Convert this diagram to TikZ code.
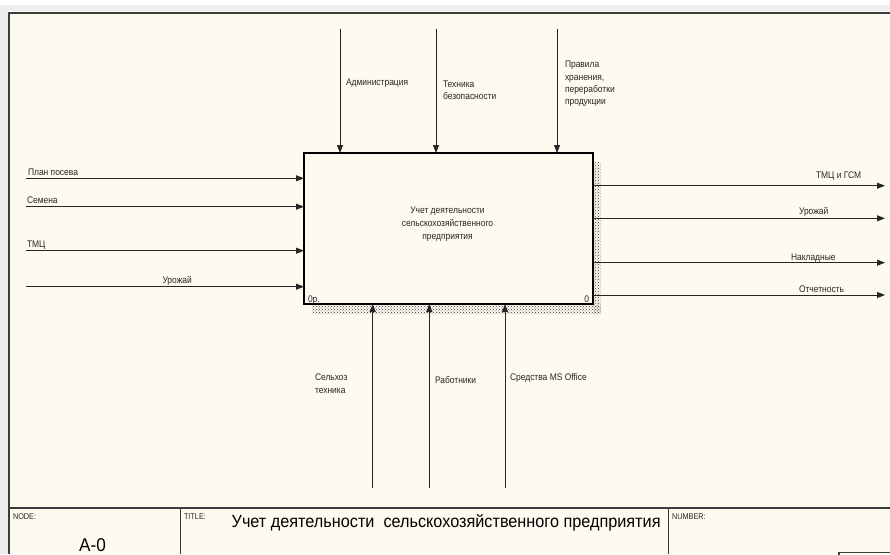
\documentclass[tikz,border=0pt]{standalone}
\usepackage{fontspec}
\setmainfont{Liberation Sans}[FakeStretch=0.88]
\newfontfamily\titlefont{Liberation Sans}[FakeStretch=0.928]
\usetikzlibrary{arrows.meta,patterns}
\definecolor{bg}{RGB}{255,250,240}
\definecolor{frm}{RGB}{60,60,60}
\definecolor{bar}{RGB}{238,238,238}
\begin{document}
\begin{tikzpicture}[x=1pt,y=-1pt,
  lbl/.style={inner sep=0pt, outer sep=0pt, anchor=base west, font=\fontsize{9.6}{12}\selectfont, text=black!85},
  lblc/.style={lbl, anchor=base},
  small/.style={inner sep=0pt, outer sep=0pt, anchor=base west, font=\fontsize{8.3}{9}\selectfont, text=black!85},
  arr/.style={draw=black!85, line width=0.9pt, -{Triangle[length=8pt,width=6pt]}},
  frame/.style={draw=frm, line width=1.3pt},
  shadow/.style={pattern=crosshatch dots, pattern color=black!80, draw=none}]
\useasboundingbox (0,0) rectangle (890,554);
% background and window chrome
\fill[white] (0,0) rectangle (890,554);
\fill[bar] (0,5) rectangle (890,11);
\fill[bar] (0,11) rectangle (8,554);
\fill[bg] (9,12) rectangle (890,554);
\draw[draw=frm, line width=2pt] (9,554) -- (9,12.5) -- (890,12.5);
% title block
\draw[frame] (9,508) -- (890,508);
\draw[frame] (180.5,508) -- (180.5,554);
\draw[frame] (668.5,508) -- (668.5,554);
\draw[frame] (839,556) -- (839,552.5) -- (892,552.5);
\node[small] (tnode) at (13,519) {NODE:};
\node[small] (ttitle) at (184,519) {TITLE:};
\node[small] (tnum) at (672,519) {NUMBER:};
\node[inner sep=0pt, anchor=base, font=\titlefont\fontsize{18.5}{20}\selectfont] (tA0) at (92.5,551) {A-0};
\node[inner sep=0pt, anchor=base west, font=\titlefont\fontsize{17.5}{20}\selectfont] (ttext) at (231.5,527) {Учет деятельности\ \ сельскохозяйственного предприятия};
% shadow of the box
\fill[shadow] (593,162) rectangle (601,313);
\fill[shadow] (312,305) rectangle (601,313);
% main box
\node[draw=black, line width=1.6pt, fill=bg, inner sep=0pt, outer sep=0pt,
      minimum width=289pt, minimum height=151pt, anchor=north west] (box) at (304,153) {};
\node[lblc] (b1) at (447.5,213.5) {Учет деятельности};
\node[lblc] (b2) at (447.5,226.5) {сельскохозяйственного};
\node[lblc] (b3) at (447.5,239.5) {предприятия};
\node[lbl] (b0p) at (308,302) {0р.};
\node[lbl, anchor=base east] (b0) at (589,302) {0};
% controls (top)
\coordinate (t1) at (340,29);
\coordinate (t2) at (436,29);
\coordinate (t3) at (557,29);
\draw[arr] (t1) -- (t1 |- box.north);
\draw[arr] (t2) -- (t2 |- box.north);
\draw[arr] (t3) -- (t3 |- box.north);
\node[lbl] (lt1) at (346,85) {Администрация};
\node[lbl] (lt2a) at (443,87) {Техника};
\node[lbl] (lt2b) at (443,99.5) {безопасности};
\node[lbl] (lt3a) at (565,67.5) {Правила};
\node[lbl] (lt3b) at (565,80.5) {хранения,};
\node[lbl] (lt3c) at (565,92.5) {переработки};
\node[lbl] (lt3d) at (565,104.5) {продукции};
% inputs (left)
\coordinate (i1) at (26,178.3);
\coordinate (i2) at (26,206.7);
\coordinate (i3) at (26,250.7);
\coordinate (i4) at (26,286.7);
\draw[arr] (i1) -- (i1 -| box.west);
\draw[arr] (i2) -- (i2 -| box.west);
\draw[arr] (i3) -- (i3 -| box.west);
\draw[arr] (i4) -- (i4 -| box.west);
\node[lbl] (li1) at (28,175) {План посева};
\node[lbl] (li2) at (27,203.5) {Семена};
\node[lbl] (li3) at (27,247.5) {ТМЦ};
\node[lbl] (li4) at (162.5,283) {Урожай};
% outputs (right)
\coordinate (o1) at (885,185.7);
\coordinate (o2) at (885,218.3);
\coordinate (o3) at (885,262.7);
\coordinate (o4) at (885,295);
\draw[arr] (o1 -| box.east) -- (o1);
\draw[arr] (o2 -| box.east) -- (o2);
\draw[arr] (o3 -| box.east) -- (o3);
\draw[arr] (o4 -| box.east) -- (o4);
\node[lbl] (lo1) at (816,178) {ТМЦ и ГСМ};
\node[lbl] (lo2) at (799,214.5) {Урожай};
\node[lbl] (lo3) at (791,260) {Накладные};
\node[lbl] (lo4) at (799,292) {Отчетность};
% mechanisms (bottom)
\coordinate (m1) at (372.7,488);
\coordinate (m2) at (429.3,488);
\coordinate (m3) at (505,488);
\draw[arr] (m1) -- (m1 |- box.south);
\draw[arr] (m2) -- (m2 |- box.south);
\draw[arr] (m3) -- (m3 |- box.south);
\node[lbl] (lm1a) at (315,380) {Сельхоз};
\node[lbl] (lm1b) at (315,393) {техника};
\node[lbl] (lm2) at (435,383.3) {Работники};
\node[lbl] (lm3) at (510,380.5) {Средства MS Office};
\end{tikzpicture}
\end{document}
